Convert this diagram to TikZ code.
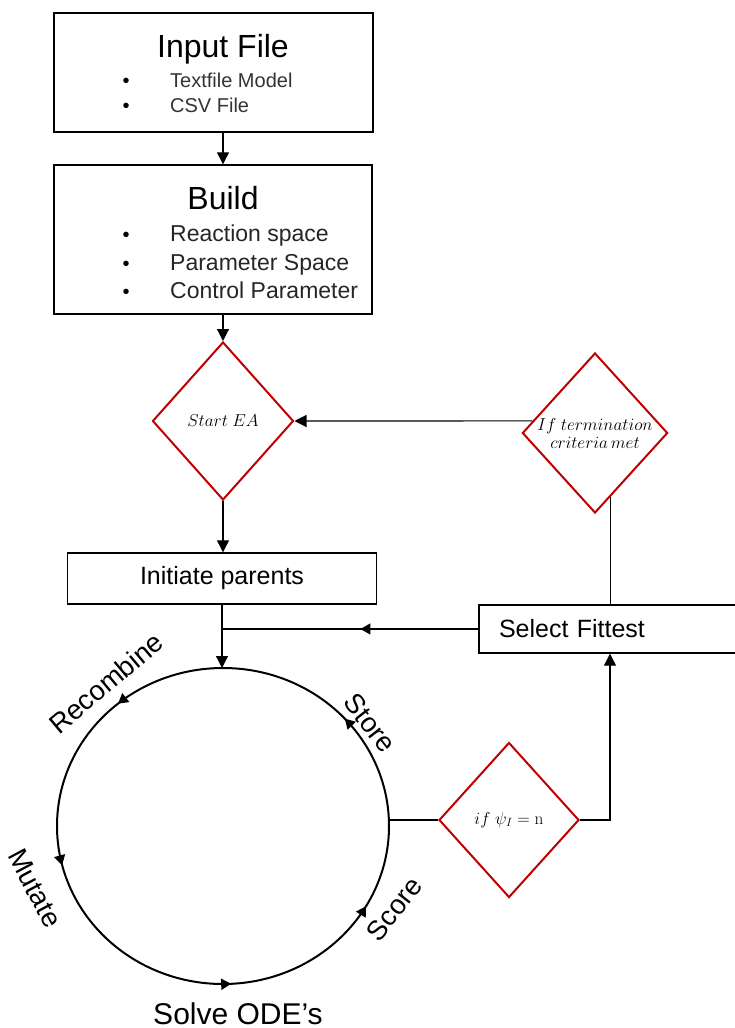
\documentclass[tikz,border=0pt]{standalone}
\usepackage[no-math]{fontspec}
\setmainfont{Liberation Sans}
\usetikzlibrary{arrows.meta,shapes.geometric,decorations.markings,calc}
\definecolor{dred}{HTML}{C00000}
\begin{document}
\begin{tikzpicture}[x=1pt,y=-1pt,
  box/.style={draw=black, line width=1.4pt, rectangle, inner sep=0pt},
  dia/.style={draw=dred, line width=2pt, diamond, inner sep=0pt, fill=white, align=center, font=\fontsize{16.5}{20}\selectfont},
  arr/.style={line width=1.2pt, -{Triangle[length=12pt,width=12pt]}},
  conn/.style={line width=1.2pt},
  ttl/.style={font=\fontsize{32}{38}\selectfont, anchor=base, inner sep=0pt},
  itemA/.style={font=\fontsize{20}{24}\selectfont, text=black!80, anchor=base west, inner sep=0pt},
  itemB/.style={font=\fontsize{23}{28}\selectfont, text=black!85, anchor=base west, inner sep=0pt},
  bul/.style={font=\fontsize{20}{24}\selectfont, anchor=base, inner sep=0pt},
  lab/.style={font=\fontsize{27.5}{32}\selectfont, inner sep=0pt},
  mk/.style={decoration={markings, mark=at position #1 with {\arrow{Triangle[length=10pt,width=11pt]}}}, postaction={decorate}},
  ]
\useasboundingbox (0,0) rectangle (734,1028);

% Input File box
\node[box, minimum width=319pt, minimum height=119pt] (inp) at (213.5,72.5) {};
\node[ttl] (inpt) at (223,57) {Input File};
\node[bul] (ib1) at (126,87) {•};
\node[itemA] (ia1) at (170,87) {Textfile Model};
\node[bul] (ib2) at (126,112) {•};
\node[itemA] (ia2) at (170,112) {CSV File};

% Build box
\node[box, minimum width=318pt, minimum height=149pt] (bld) at (213,239.5) {};
\node[ttl] (bldt) at (223,209) {Build};
\node[bul] (bb1) at (126,241) {•};
\node[itemB] (ba1) at (170,241) {Reaction space};
\node[bul] (bb2) at (126,270) {•};
\node[itemB] (ba2) at (170,270) {Parameter Space};
\node[bul] (bb3) at (126,298) {•};
\node[itemB] (ba3) at (170,298) {Control Parameter};

% diamonds
\node[dia, minimum width=141pt, minimum height=158pt] (se) at (223,421) {$Start\ EA$};
\node[dia, minimum width=142pt, minimum height=160pt] (term) at (595,433) {$If\ termination$\\[-2pt]$criteria\,met$};
\node[dia, minimum width=140pt, minimum height=155pt] (psi) at (509,820) {$if\ \psi_I=\mathrm{n}$};

% Initiate parents, Select Fittest
\node[box, minimum width=309pt, minimum height=51pt, font=\fontsize{25}{30}\selectfont] (ip) at (222,578.5) {Initiate parents};
\node[box, minimum width=262pt, minimum height=48pt, text width=222pt, align=left, font=\fontsize{25}{30}\selectfont] (sf) at (610,629) {Select Fittest};

% cycle
\node[ellipse, minimum width=332pt, minimum height=316pt, inner sep=0pt, outer sep=0pt] (cyc) at (223,826) {};
\draw[line width=2pt,
  decoration={markings,
    mark=at position 0.117 with {\arrow{Triangle[length=10pt,width=11pt]}},
    mark=at position 0.361 with {\arrow{Triangle[length=10pt,width=11pt]}},
    mark=at position 0.539 with {\arrow{Triangle[length=10pt,width=11pt]}},
    mark=at position 0.758 with {\arrow{Triangle[length=10pt,width=11pt]}},
    mark=at position 0.917 with {\arrow{Triangle[length=10pt,width=11pt]}}},
  postaction={decorate}]
  (cyc.east) arc[start angle=0, end angle=-360, x radius=166, y radius=158];

\node[lab, rotate=40] (lrec) at (106,683) {Recombine};
\node[lab, rotate=-52] (lsto) at (370,723) {Store};
\node[lab, rotate=-62] (lmut) at (35,888) {Mutate};
\node[lab, rotate=52] (lsco) at (394,909) {Score};
\node[font=\fontsize{30}{36}\selectfont, anchor=base, inner sep=0pt, text depth=0pt] (lsol) at (238,1024) {Solve ODE’s};

% connectors
\draw[arr] (inp.south -| se.north) -- (bld.north -| se.north);
\draw[arr] (bld.south -| se.north) -- (se.north);
\draw[arr] (se.south) -- (se.south |- ip.north);
\draw[arr] (ip.south) -- (ip.south |- cyc.north);
\draw[conn, mk=0.46] (sf.west) -- (ip.south |- sf.west);
\draw[arr] ($(term.west)!0.15!(term.north)$) -- (se.east);
\coordinate (tb) at ($(term.south)!0.21!(term.east)$);
\draw[conn] (tb) -- (tb |- sf.north);
\draw[conn] (psi.west -| cyc.east) -- (psi.west);
\draw[arr] (psi.east) -| (sf.south);
\end{tikzpicture}
\end{document}
